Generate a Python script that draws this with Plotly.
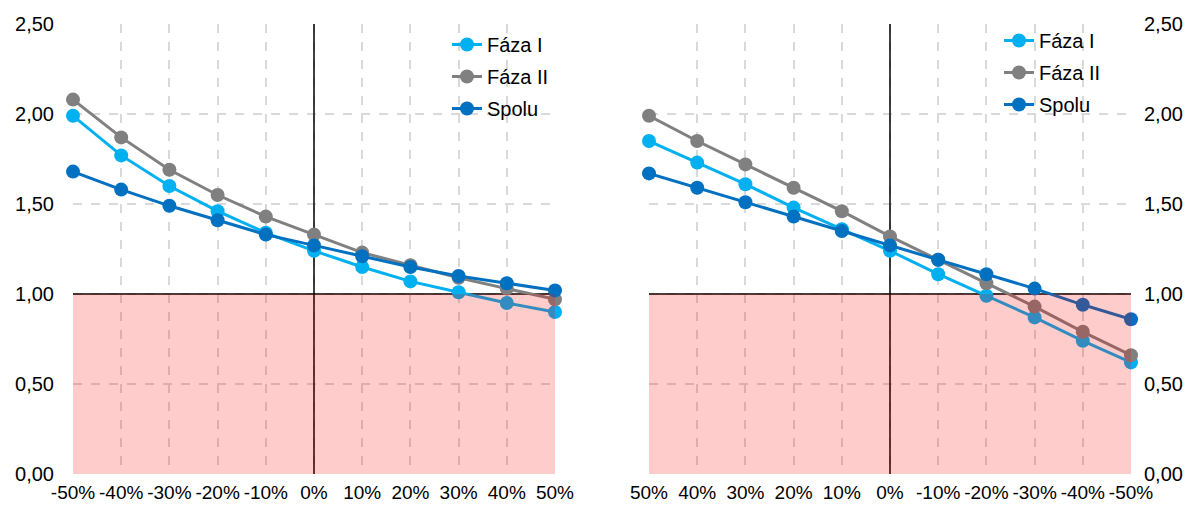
import plotly.graph_objects as go

# ---- data ----
cats_left = ["-50%", "-40%", "-30%", "-20%", "-10%", "0%", "10%", "20%", "30%", "40%", "50%"]
left_faza1 = [1.99, 1.77, 1.60, 1.46, 1.34, 1.24, 1.15, 1.07, 1.01, 0.95, 0.90]
left_faza2 = [2.08, 1.87, 1.69, 1.55, 1.43, 1.33, 1.23, 1.16, 1.09, 1.03, 0.97]
left_spolu = [1.68, 1.58, 1.49, 1.41, 1.33, 1.27, 1.21, 1.15, 1.10, 1.06, 1.02]

cats_right = ["50%", "40%", "30%", "20%", "10%", "0%", "-10%", "-20%", "-30%", "-40%", "-50%"]
right_faza1 = [1.85, 1.73, 1.61, 1.48, 1.36, 1.24, 1.11, 0.99, 0.87, 0.74, 0.62]
right_faza2 = [1.99, 1.85, 1.72, 1.59, 1.46, 1.32, 1.19, 1.06, 0.93, 0.79, 0.66]
right_spolu = [1.67, 1.59, 1.51, 1.43, 1.35, 1.27, 1.19, 1.11, 1.03, 0.94, 0.86]

series_names = ["Fáza I", "Fáza II", "Spolu"]
colors = ["#00B0F0", "#808080", "#0070C0"]

FONT = "Liberation Sans Narrow, Arial Narrow, Liberation Sans, Arial, sans-serif"

fig = go.Figure()

for name, col, ys in zip(series_names, colors, [left_faza1, left_faza2, left_spolu]):
    fig.add_trace(go.Scatter(
        x=cats_left, y=ys, name=name, mode="lines+markers",
        line=dict(color=col, width=3), marker=dict(color=col, size=14),
        xaxis="x", yaxis="y", legend="legend", legendgroup="L" + name, cliponaxis=False))

for name, col, ys in zip(series_names, colors, [right_faza1, right_faza2, right_spolu]):
    fig.add_trace(go.Scatter(
        x=cats_right, y=ys, name=name, mode="lines+markers",
        line=dict(color=col, width=3), marker=dict(color=col, size=14),
        xaxis="x2", yaxis="y2", legend="legend2", legendgroup="R" + name, cliponaxis=False))

shapes = []
for xr, yr, cats in [("x", "y", cats_left), ("x2", "y2", cats_right)]:
    n = len(cats) - 1
    zi = cats.index("0%")
    shapes.append(dict(type="line", xref=xr, yref=yr, x0=0, x1=n, y0=1, y1=1,
                       line=dict(color="black", width=1.5), layer="between"))
    shapes.append(dict(type="line", xref=xr, yref=yr, x0=zi, x1=zi, y0=0, y1=2.5,
                       line=dict(color="black", width=1.5), layer="between"))
    shapes.append(dict(type="rect", xref=xr, yref=yr, x0=0, x1=n, y0=0, y1=1,
                       fillcolor="rgba(255,0,0,0.2)", line=dict(width=0), layer="above"))

# page has an 8px body margin; figure coordinates = page coordinates - 8
OFF = 8
W, H = 1193 - OFF, 515 - OFF
y_dom = [(H - (474 - OFF)) / H, (H - (24 - OFF)) / H]

xcommon = dict(type="category", range=[0, 10], showgrid=True, gridcolor="#D9D9D9",
               griddash="dash", gridwidth=1.5, zeroline=False, showline=False,
               ticks="", tickangle=0, tickfont=dict(family=FONT, size=19, color="black"),
               ticklabelstandoff=5, automargin=False)
ycommon = dict(range=[0, 2.5], dtick=0.5, tickformat=".2f", showgrid=True,
               gridcolor="#D9D9D9", griddash="dash", gridwidth=1.5, zeroline=False,
               showline=False, ticks="", tickfont=dict(family=FONT, size=20, color="black"),
               automargin=False, domain=y_dom)

fig.update_layout(
    width=W, height=H, autosize=False,
    margin=dict(l=0, r=0, t=0, b=0),
    paper_bgcolor="white", plot_bgcolor="white",
    separators=", ",
    font=dict(family=FONT, size=20, color="black"),
    xaxis=dict(**xcommon, domain=[(73 - OFF) / W, (555 - OFF) / W], anchor="y"),
    yaxis=dict(**ycommon, anchor="x", side="left", ticklabelstandoff=18),
    xaxis2=dict(**xcommon, domain=[(649 - OFF) / W, (1131 - OFF) / W], anchor="y2"),
    yaxis2=dict(**ycommon, anchor="x2", side="right", ticklabelstandoff=12),
    legend=dict(x=(447 - OFF) / W, y=1 - (25 - OFF) / H, xanchor="left", yanchor="top",
                bgcolor="rgba(0,0,0,0)", font=dict(family=FONT, size=20, color="black"),
                tracegroupgap=3),
    legend2=dict(x=(999 - OFF) / W, y=1 - (21 - OFF) / H, xanchor="left", yanchor="top",
                 bgcolor="rgba(0,0,0,0)", font=dict(family=FONT, size=20, color="black"),
                 tracegroupgap=3),
    shapes=shapes,
    showlegend=True,
)

fig.write_html("out.html")
